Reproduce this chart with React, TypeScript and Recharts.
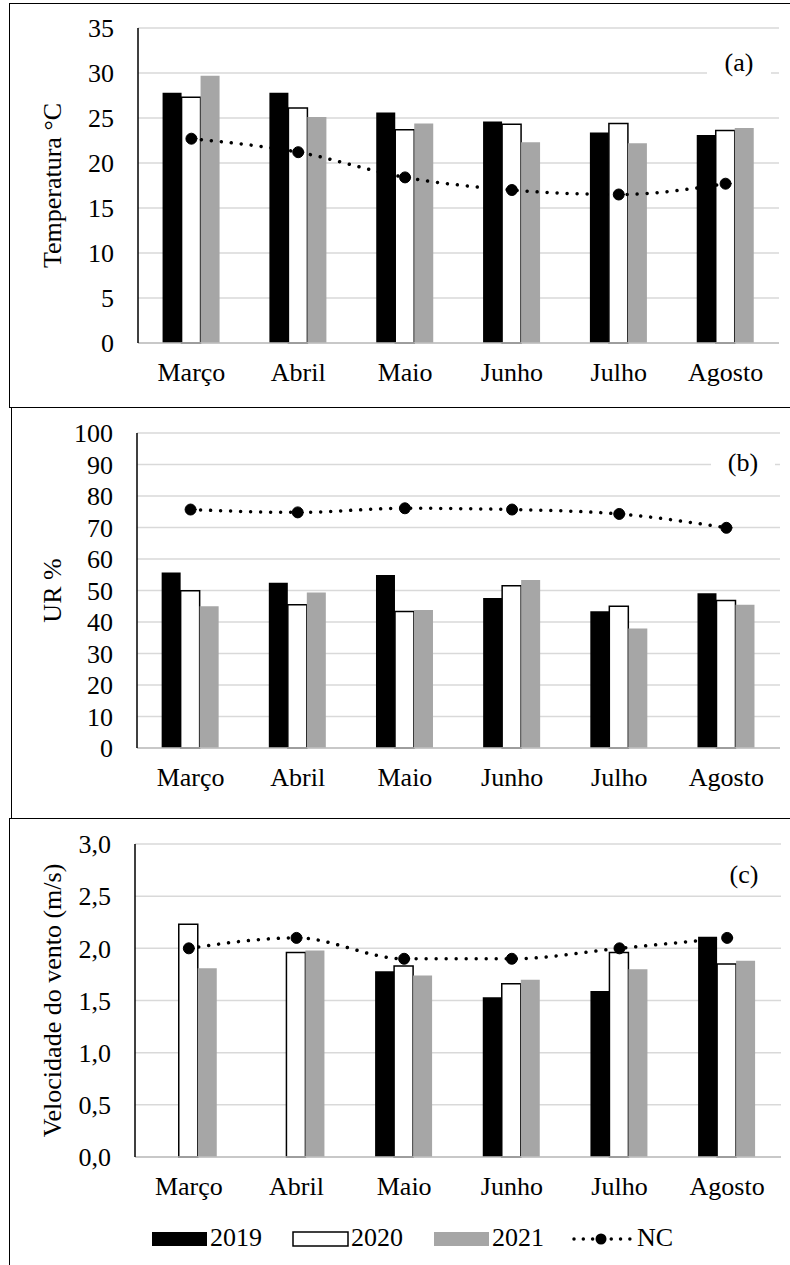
import React from 'react';
import { ComposedChart, Bar, Line, XAxis, YAxis, CartesianGrid } from 'recharts';

// meses (categorias)
const MONTHS = ['Março', 'Abril', 'Maio', 'Junho', 'Julho', 'Agosto'];
const YEARS = ['2019', '2020', '2021', 'NC'];

// (a) Temperatura °C
const TEMP_2019 = [27.8, 27.8, 25.6, 24.6, 23.4, 23.1];
const TEMP_2020 = [27.3, 26.1, 23.7, 24.3, 24.4, 23.6];
const TEMP_2021 = [29.7, 25.1, 24.4, 22.3, 22.2, 23.9];
const TEMP_NC = [22.7, 21.2, 18.4, 17.0, 16.5, 17.7];
const TEMP_TICKS = [0, 5, 10, 15, 20, 25, 30, 35];

// (b) UR %
const UR_2019 = [55.7, 52.5, 54.9, 47.6, 43.4, 49.1];
const UR_2020 = [49.9, 45.5, 43.3, 51.5, 45.0, 46.8];
const UR_2021 = [45.0, 49.4, 43.8, 53.3, 37.9, 45.5];
const UR_NC = [75.7, 74.8, 76.1, 75.7, 74.3, 69.9];
const UR_TICKS = [0, 10, 20, 30, 40, 50, 60, 70, 80, 90, 100];

// (c) Velocidade do vento (m/s)
const VENTO_2019 = [null, null, 1.78, 1.53, 1.59, 2.11];
const VENTO_2020 = [2.23, 1.96, 1.83, 1.66, 1.96, 1.85];
const VENTO_2021 = [1.81, 1.98, 1.74, 1.70, 1.80, 1.88];
const VENTO_NC = [2.0, 2.1, 1.9, 1.9, 2.0, 2.1];
const VENTO_TICKS = [0, 0.5, 1.0, 1.5, 2.0, 2.5, 3.0];

const FONT = '"Liberation Serif", "Times New Roman", serif';
const FS = 26;
const GRAY = '#a6a6a6';

const build = (a: (number | null)[], b: (number | null)[], c: (number | null)[], nc: number[]) =>
  MONTHS.map((m, i) => ({ month: m, y2019: a[i], y2020: b[i], y2021: c[i], nc: nc[i] }));

const tickStyle = { fill: '#000', fontSize: FS, fontFamily: FONT };

interface PanelProps {
  top: number;
  height: number;
  margin: { top: number; right: number; bottom: number; left: number };
  yWidth: number;
  data: any[];
  ticks: number[];
  yLabel: string;
  fmt?: (v: number) => string;
}

function Panel({ top, height, margin, yWidth, data, ticks, yLabel, fmt }: PanelProps) {
  const domain = [ticks[0], ticks[ticks.length - 1]];
  return (
    <div style={{ position: 'absolute', left: 0, top }}>
      <ComposedChart
        width={790}
        height={height}
        data={data}
        margin={margin}
        barCategoryGap="23%"
        barGap={0}
      >
        <CartesianGrid vertical={false} stroke="#d9d9d9" strokeWidth={1.5} />
        <XAxis
          dataKey="month"
          height={60}
          interval={0}
          tickLine={false}
          tickSize={6}
          tickMargin={14}
          axisLine={{ stroke: '#bfbfbf', strokeWidth: 1.5 }}
          tick={tickStyle}
        />
        <XAxis
          xAxisId="top"
          dataKey="month"
          orientation="top"
          height={0}
          tick={false}
          tickLine={false}
          axisLine={{ stroke: '#000', strokeWidth: 1.5 }}
        />
        <YAxis
          width={yWidth}
          domain={domain}
          ticks={ticks}
          interval={0}
          tickLine={false}
          tickSize={6}
          tickMargin={18}
          tickFormatter={fmt}
          axisLine={{ stroke: '#000', strokeWidth: 1.5 }}
          tick={tickStyle}
          label={{
            value: yLabel,
            angle: -90,
            position: 'insideLeft',
            offset: 52,
            style: { textAnchor: 'middle', fill: '#000', fontSize: FS, fontFamily: FONT },
          }}
        />
        <YAxis
          yAxisId="r"
          orientation="right"
          width={0}
          domain={domain}
          tick={false}
          tickLine={false}
          axisLine={{ stroke: '#000', strokeWidth: 1.5 }}
        />
        <Bar dataKey="y2019" name="2019" fill="#000" isAnimationActive={false} />
        <Bar dataKey="y2020" name="2020" fill="#fff" stroke="#000" strokeWidth={1.5} isAnimationActive={false} />
        <Bar dataKey="y2021" name="2021" fill={GRAY} isAnimationActive={false} />
        <Line
          dataKey="nc"
          name="NC"
          type="monotone"
          stroke="#000"
          strokeWidth={3.5}
          strokeDasharray="0.01 10"
          strokeLinecap="round"
          dot={{ r: 5.5, fill: '#000', stroke: '#000', strokeWidth: 1, strokeDasharray: 'none' }}
          activeDot={false}
          isAnimationActive={false}
        />
      </ComposedChart>
    </div>
  );
}

const Tag = ({ text, left, top }: { text: string; left: number; top: number }) => (
  <div
    style={{
      position: 'absolute',
      left,
      top,
      width: 64,
      height: 38,
      lineHeight: '38px',
      textAlign: 'center',
      background: '#fff',
      fontFamily: FONT,
      fontSize: FS,
      color: '#000',
    }}
  >
    {text}
  </div>
);

const Box = ({ left, top, height }: { left: number; top: number; height: number }) => (
  <div
    style={{
      position: 'absolute',
      left,
      top,
      width: 820,
      height,
      border: '1.5px solid #000',
      boxSizing: 'border-box',
    }}
  />
);

function LegendRow() {
  const swatches = [
    { x: 151, fill: '#000', stroke: 'none' },
    { x: 292, fill: '#fff', stroke: '#000' },
    { x: 433, fill: GRAY, stroke: 'none' },
  ];
  const textStyle: React.CSSProperties = {
    position: 'absolute',
    top: 1223,
    fontFamily: FONT,
    fontSize: FS,
    lineHeight: '30px',
    color: '#000',
  };
  return (
    <>
      {swatches.map((s, i) => (
        <React.Fragment key={YEARS[i]}>
          <svg style={{ position: 'absolute', left: s.x, top: 1231 }} width={58} height={16}>
            <rect x={1} y={1} width={55} height={14} fill={s.fill} stroke={s.stroke} strokeWidth={1.5} />
          </svg>
          <div style={{ ...textStyle, left: s.x + 59 }}>{YEARS[i]}</div>
        </React.Fragment>
      ))}
      <svg style={{ position: 'absolute', left: 570, top: 1229 }} width={64} height={20}>
        <line x1={4} y1={10} x2={60} y2={10} stroke="#000" strokeWidth={3.5} strokeDasharray="0.01 9.3" strokeLinecap="round" />
        <circle cx={31} cy={10} r={5.5} fill="#000" />
      </svg>
      <div style={{ ...textStyle, left: 637 }}>{YEARS[3]}</div>
    </>
  );
}

export default function App() {
  const fmtVento = (v: number) => v.toFixed(1).replace('.', ',');
  return (
    <div
      style={{
        position: 'absolute',
        left: 0,
        top: 0,
        width: 790,
        height: 1265,
        overflow: 'hidden',
        background: '#fff',
      }}
    >
      <Box left={9} top={3} height={405} />
      <Box left={11} top={407} height={412} />
      <Box left={9} top={818} height={500} />

      <Panel
        top={0}
        height={408}
        margin={{ top: 28, right: 11, bottom: 5, left: 0 }}
        yWidth={138}
        data={build(TEMP_2019, TEMP_2020, TEMP_2021, TEMP_NC)}
        ticks={TEMP_TICKS}
        yLabel="Temperatura °C"
      />
      <Panel
        top={407}
        height={411}
        margin={{ top: 26, right: 10, bottom: 10, left: 0 }}
        yWidth={137}
        data={build(UR_2019, UR_2020, UR_2021, UR_NC)}
        ticks={UR_TICKS}
        yLabel="UR %"
      />
      <Panel
        top={818}
        height={447}
        margin={{ top: 26, right: 9, bottom: 48, left: 0 }}
        yWidth={135}
        data={build(VENTO_2019, VENTO_2020, VENTO_2021, VENTO_NC)}
        ticks={VENTO_TICKS}
        yLabel="Velocidade do vento (m/s)"
        fmt={fmtVento}
      />

      <Tag text="(a)" left={707} top={44} />
      <Tag text="(b)" left={711} top={444} />
      <Tag text="(c)" left={712} top={856} />

      <LegendRow />
    </div>
  );
}
